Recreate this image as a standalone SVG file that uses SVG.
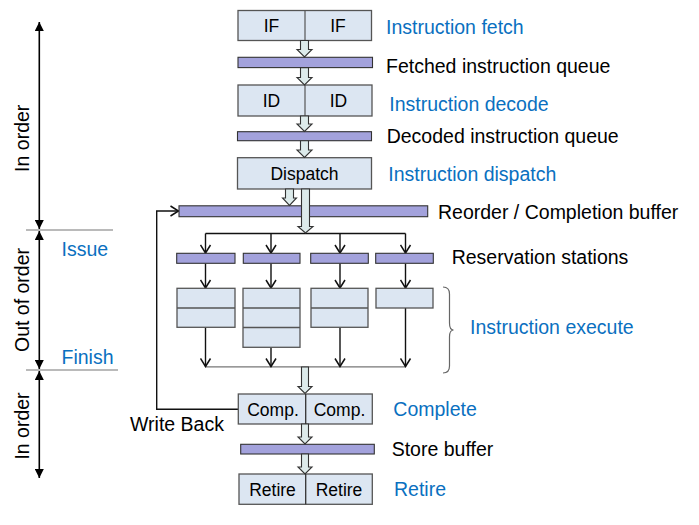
<svg xmlns="http://www.w3.org/2000/svg" width="699" height="525" viewBox="0 0 699 525">
<defs>
<style>
text{font-family:"Liberation Sans",Arial,sans-serif;}
.lbl{font-size:19.5px;fill:#000;}
.blue{font-size:19.5px;fill:#0A70C0;}
.bx{font-size:17.5px;fill:#000;text-anchor:middle;}
.box{fill:#DCE6F2;stroke:#555;stroke-width:1.3;}
.bar{fill:#A3A2DC;stroke:#333;stroke-width:1.1;}
.hol{fill:#DDEBEB;stroke:#333;stroke-width:1.1;}
.ln{fill:none;stroke:#111;stroke-width:1.4;}
.gl{fill:none;stroke:#777;stroke-width:1.2;}
.ax{fill:none;stroke:#000;stroke-width:1.6;}
</style>
<marker id="chev" viewBox="0 0 12 12" refX="10" refY="6" markerWidth="12" markerHeight="12" markerUnits="userSpaceOnUse" orient="auto">
<polyline points="2,1 10,6 2,11" fill="none" stroke="#111" stroke-width="1.5"/>
</marker>
<marker id="tri" viewBox="0 0 10 10" refX="10" refY="5" markerWidth="10" markerHeight="9" markerUnits="userSpaceOnUse" orient="auto-start-reverse">
<path d="M0,0 L10,5 L0,10 Z" fill="#000"/>
</marker>
</defs>
<rect width="699" height="525" fill="#fff"/>

<g id="axis">
<line class="gl" x1="26" y1="230" x2="113" y2="230" stroke="#444"/>
<line class="gl" x1="26" y1="370" x2="118" y2="370"/>
<line class="ax" x1="39.3" y1="22" x2="39.3" y2="229" marker-start="url(#tri)" marker-end="url(#tri)"/>
<line class="ax" x1="39.3" y1="231" x2="39.3" y2="369" marker-start="url(#tri)" marker-end="url(#tri)"/>
<line class="ax" x1="39.3" y1="371" x2="39.3" y2="478" marker-start="url(#tri)" marker-end="url(#tri)"/>
<text class="lbl" transform="translate(29,138.3) rotate(-90)" text-anchor="middle">In order</text>
<text class="lbl" transform="translate(28.5,300) rotate(-90)" text-anchor="middle">Out of order</text>
<text class="lbl" transform="translate(29,426) rotate(-90)" text-anchor="middle">In order</text>
<text class="blue" x="61.5" y="256">Issue</text>
<text class="blue" x="61.5" y="364">Finish</text>
</g>

<g id="connectors">
<polyline class="ln" points="238,409.3 156.7,409.3 156.7,211 178.5,211" marker-end="url(#chev)"/>
<line class="ln" x1="205.5" y1="233.5" x2="405.5" y2="233.5"/>
<line class="ln" x1="205.5" y1="233.5" x2="205.5" y2="253" marker-end="url(#chev)"/>
<line class="ln" x1="271" y1="233.5" x2="271" y2="253" marker-end="url(#chev)"/>
<line class="ln" x1="340" y1="233.5" x2="340" y2="253" marker-end="url(#chev)"/>
<line class="ln" x1="405.5" y1="233.5" x2="405.5" y2="253" marker-end="url(#chev)"/>
<line class="ln" x1="205.5" y1="263.5" x2="205.5" y2="288" marker-end="url(#chev)"/>
<line class="ln" x1="271" y1="263.5" x2="271" y2="288" marker-end="url(#chev)"/>
<line class="ln" x1="340" y1="263.5" x2="340" y2="288" marker-end="url(#chev)"/>
<line class="ln" x1="405.5" y1="263.5" x2="405.5" y2="288" marker-end="url(#chev)"/>
<line class="gl" x1="205.5" y1="366.8" x2="405.5" y2="366.8"/>
<line class="ln" x1="205.5" y1="327.3" x2="205.5" y2="366.5" marker-end="url(#chev)"/>
<line class="ln" x1="271" y1="347.3" x2="271" y2="366.5" marker-end="url(#chev)"/>
<line class="ln" x1="340" y1="327.3" x2="340" y2="366.5" marker-end="url(#chev)"/>
<line class="ln" x1="405.5" y1="308" x2="405.5" y2="366.5" marker-end="url(#chev)"/>
</g>

<g id="fetch"><rect class="box" x="238" y="10.5" width="133.5" height="30"/><line x1="305" y1="10.5" x2="305" y2="40.5" stroke="#555" stroke-width="1.2"/>
<text class="bx" x="271.5" y="32">IF</text><text class="bx" x="338" y="32">IF</text></g>
<g id="fetchq"><rect class="bar" x="238" y="57.3" width="134.5" height="10.3"/></g>
<g id="decode"><rect class="box" x="238" y="85" width="134" height="31"/><line x1="305" y1="85" x2="305" y2="116" stroke="#555" stroke-width="1.2"/>
<text class="bx" x="271.5" y="107">ID</text><text class="bx" x="338.5" y="107">ID</text></g>
<g id="decodeq"><rect class="bar" x="237.5" y="131.7" width="134" height="9"/></g>
<g id="dispatch"><rect class="box" x="237.5" y="157.7" width="134" height="31.3"/><text class="bx" x="304.5" y="180">Dispatch</text></g>
<g id="reorder"><rect class="bar" x="179" y="205.8" width="248.7" height="10.9"/></g>
<g id="rs1"><rect class="bar" x="176.7" y="253.3" width="58.3" height="10"/></g>
<g id="rs2"><rect class="bar" x="243.3" y="253.3" width="56.7" height="10"/></g>
<g id="rs3"><rect class="bar" x="310.7" y="253.3" width="57.6" height="10"/></g>
<g id="rs4"><rect class="bar" x="375.7" y="253.3" width="57.6" height="10"/></g>
<g id="eu1"><rect class="box" x="177" y="288.3" width="58" height="39"/><line x1="177" y1="308" x2="235" y2="308" stroke="#555" stroke-width="1.3"/></g>
<g id="eu2"><rect class="box" x="243" y="288.3" width="57" height="59"/><line x1="243" y1="308" x2="300" y2="308" stroke="#555" stroke-width="1.3"/><line x1="243" y1="327.5" x2="300" y2="327.5" stroke="#555" stroke-width="1.3"/></g>
<g id="eu3"><rect class="box" x="311" y="288.3" width="57" height="39"/><line x1="311" y1="308" x2="368" y2="308" stroke="#555" stroke-width="1.3"/></g>
<g id="eu4"><rect class="box" x="376" y="288.3" width="57" height="19.7"/></g>
<g id="complete"><rect class="box" x="238.3" y="394" width="134" height="30"/><line x1="305.7" y1="394" x2="305.7" y2="424" stroke="#333" stroke-width="1.3"/>
<text class="bx" x="273" y="415.5">Comp.</text><text class="bx" x="339.5" y="415.5">Comp.</text></g>
<g id="storebuf"><rect class="bar" x="240.7" y="444.3" width="133.6" height="9.7"/></g>
<g id="retire"><rect class="box" x="239" y="474" width="133.3" height="30.3"/><line x1="305.7" y1="474" x2="305.7" y2="504.3" stroke="#333" stroke-width="1.3"/>
<text class="bx" x="272.5" y="496">Retire</text><text class="bx" x="339" y="496">Retire</text></g>

<g id="hollow-arrows">
<path class="hol" d="M300.5,40.5 V49.5 H297 L304.5,57 L312,49.5 H308.5 V40.5 Z"/>
<path class="hol" d="M300.5,67.6 V77.5 H297 L304.5,85 L312,77.5 H308.5 V67.6 Z"/>
<path class="hol" d="M300.5,116 V124 H297 L304.5,131.5 L312,124 H308.5 V116 Z"/>
<path class="hol" d="M300.5,140.8 V150 H297 L304.5,157.5 L312,150 H308.5 V140.8 Z"/>
<path class="hol" d="M285.5,189 V198 H282.5 L289.5,205.5 L296.5,198 H293.5 V189 Z"/>
<path class="hol" d="M301.5,189 V226.5 H298 L305.5,233 L313,226.5 H309.5 V189 Z"/>
<path class="hol" d="M301.5,367 V386.5 H298 L305,393.5 L312,386.5 H308.5 V367 Z"/>
<path class="hol" d="M301.5,424 V437 H298 L305,444 L312,437 H308.5 V424 Z"/>
<path class="hol" d="M301.5,454 V467 H298 L305,474 L312,467 H308.5 V454 Z"/>
</g>

<g id="brace"><path d="M443,287 Q449.5,287 449.5,294 V323 Q449.5,330 453.5,330 Q449.5,330 449.5,337 V366 Q449.5,373 443,373" fill="none" stroke="#666" stroke-width="1.2"/></g>

<g id="labels">
<text class="blue" x="386" y="34">Instruction fetch</text>
<text class="lbl" x="386" y="72.7">Fetched instruction queue</text>
<text class="blue" x="389.3" y="110.7">Instruction decode</text>
<text class="lbl" x="386.7" y="143.3">Decoded instruction queue</text>
<text class="blue" x="388.3" y="181">Instruction dispatch</text>
<text class="lbl" x="438" y="219">Reorder / Completion buffer</text>
<text class="lbl" x="451.7" y="264">Reservation stations</text>
<text class="blue" x="470" y="334">Instruction execute</text>
<text class="lbl" x="130" y="430.7">Write Back</text>
<text class="blue" x="393.3" y="415.7">Complete</text>
<text class="lbl" x="391.7" y="456">Store buffer</text>
<text class="blue" x="394" y="495.7">Retire</text>
</g>
</svg>
